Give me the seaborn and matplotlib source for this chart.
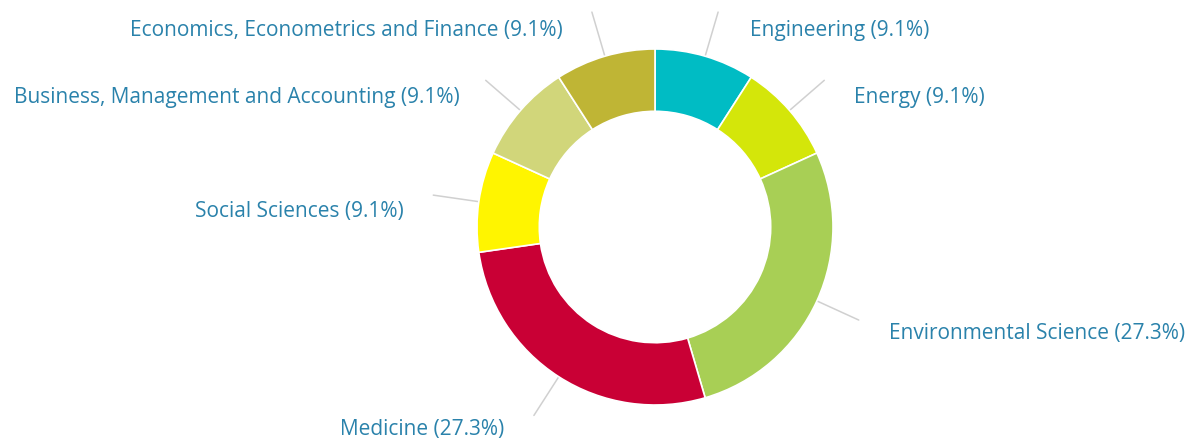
import numpy as np
import matplotlib
matplotlib.use("Agg")
import matplotlib.pyplot as plt
import seaborn as sns

# subject areas, clockwise from 12 o'clock
categories = [
    "Engineering",
    "Energy",
    "Environmental Science",
    "Medicine",
    "Social Sciences",
    "Business, Management and Accounting",
    "Economics, Econometrics and Finance",
]
shares = [9.1, 9.1, 27.3, 27.3, 9.1, 9.1, 9.1]
colors = ["#00bcc4", "#d4e60a", "#a8cf55", "#c90035", "#fff500", "#d1d67a", "#bfb535"]

# label anchor (pixel x, pixel y from top) and alignment
label_pos = [
    (750, 30, "left"),
    (854, 98, "left"),
    (889, 334, "left"),
    (504, 430, "right"),
    (404, 211, "right"),
    (460, 98, "right"),
    (563, 30, "right"),
]

W, H = 1196, 439
cx, cy = 655, H - 228
r_out = 178
ring = 0.35

sns.set_theme(style="white")
plt.rcParams["font.family"] = ["Open Sans", "DejaVu Sans"]

fig = plt.figure(figsize=(W / 100, H / 100), dpi=100)
ax = fig.add_axes([0, 0, 1, 1])

wedges, _ = ax.pie(
    shares,
    colors=colors,
    startangle=90,
    counterclock=False,
    center=(cx, cy),
    radius=r_out,
    wedgeprops=dict(width=r_out * ring, edgecolor="white", linewidth=1.2),
)

# connector lines
for w in wedges:
    mid = np.deg2rad((w.theta1 + w.theta2) / 2)
    x0, y0 = cx + r_out * np.cos(mid), cy + r_out * np.sin(mid)
    x1, y1 = cx + 224 * np.cos(mid), cy + 224 * np.sin(mid)
    ax.plot([x0, x1], [y0, y1], color="#d0d0d0", lw=1.1, zorder=0)

for name, val, (lx, ly, ha) in zip(categories, shares, label_pos):
    ax.text(lx, H - ly, f"{name} ({val}%)", ha=ha, va="center",
            fontsize=15, color="#2a82ab")

ax.set_xlim(0, W)
ax.set_ylim(0, H)
ax.set_aspect("equal")
ax.axis("off")

fig.savefig("out.png", dpi=100, facecolor="white")
